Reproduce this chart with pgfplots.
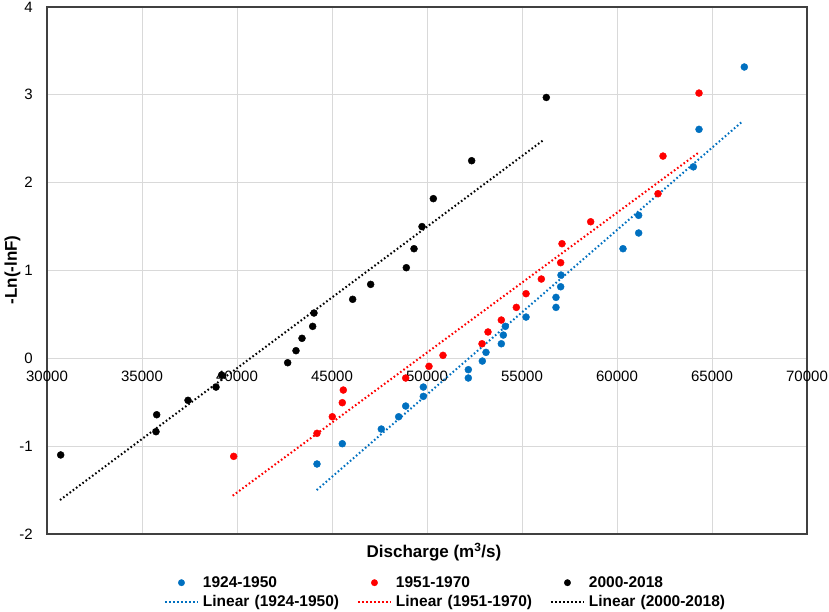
\documentclass[border=0pt]{standalone}
\usepackage{pgfplots}
\pgfplotsset{compat=1.18}
\usepackage{fontspec}
\setmainfont{Liberation Sans}
\definecolor{blue1}{HTML}{0070C0}
\definecolor{red1}{HTML}{FF0000}
\definecolor{gridc}{HTML}{D9D9D9}
\definecolor{axc}{HTML}{404040}
\newcommand\ticks{\fontsize{15}{18}\selectfont}
\newcommand\legfont{\fontsize{15.5}{18}\selectfont\bfseries}
\newcommand\labfont{\fontsize{17}{20}\selectfont\bfseries}
\tikzset{trend/.style={line width=2pt, dash pattern=on 1.6pt off 2.4pt}}
\begin{document}
\begin{tikzpicture}
\useasboundingbox (-47pt,-77pt) rectangle (782pt,534pt);
\begin{axis}[
  scale only axis, width=760pt, height=527pt,
  xmin=30000, xmax=70000, ymin=-2, ymax=4,
  xtick={30000,35000,40000,45000,50000,55000,60000,65000,70000},
  xticklabels={30000,35000,40000,45000,50000,55000,60000,65000,70000},
  ytick={-2,-1,0,1,2,3,4},
  yticklabels={-2,-1,0,1,2,3,4},
  scaled x ticks=false,
  major tick length=0pt,
  grid=major,
  major grid style={draw=gridc, line width=1pt},
  axis line style={draw=axc, line width=1.2pt},
  tick label style={font=\ticks, inner sep=0pt},
  xticklabel style={anchor=north, yshift=163.3pt},
  yticklabel style={anchor=east, xshift=-14pt},
  xlabel={Discharge (m\textsuperscript{3}/s)},
  ylabel={-Ln(-lnF)},
  label style={font=\labfont, inner sep=0pt},
  xlabel style={at={(axis description cs:0.5092,-0.0455)}, anchor=base},
  ylabel style={at={(axis description cs:-0.0454,0.501)}, anchor=center},
  legend columns=3,
  legend cell align=left,
  legend style={draw=none, fill=none, at={(axis description cs:0.1539,-0.0791)}, anchor=north west,
    inner sep=0pt, outer sep=0pt, font=\legfont,
    nodes={inner sep=0pt, text height=12pt, text depth=2pt, text width=154pt, align=left},
    row sep=5pt,
    /tikz/every odd column/.append style={column sep=4pt}},
  mark size=3.5pt,
]
\addplot[only marks, mark=*, color=blue1,
  legend image code/.code={\fill[blue1] (16.5pt,0pt) circle (3.2pt); \path (0pt,0pt) (33pt,0pt);}]
coordinates {
(44210,-1.203) (45542,-0.972) (47595,-0.805) (48509,-0.665) (48879,-0.543)
(49807,-0.433) (49807,-0.327) (52175,-0.224) (52175,-0.129) (52912,-0.031)
(53105,0.068) (53912,0.166) (54017,0.265) (54122,0.364) (55212,0.47)
(56789,0.58) (56789,0.694) (57035,0.815) (57052,0.948) (60316,1.248)
(61140,1.427) (61140,1.628) (64017,2.18) (64316,2.607) (66701,3.317)
};
\addlegendentry{1924-1950}
\addplot[only marks, mark=*, color=red1,
  legend image code/.code={\fill[red1] (16.5pt,0pt) circle (3.2pt); \path (0pt,0pt) (33pt,0pt);}]
coordinates {
(39826,-1.116) (44210,-0.854) (45016,-0.665) (45542,-0.505) (45595,-0.361)
(48879,-0.224) (50105,-0.091) (50842,0.034) (52895,0.166) (53210,0.30)
(53912,0.436) (54702,0.58) (55212,0.736) (56018,0.903) (57035,1.089)
(57105,1.305) (58614,1.555) (62158,1.874) (62421,2.303) (64316,3.02)
};
\addlegendentry{1951-1970}
\addplot[only marks, mark=*, color=black,
  legend image code/.code={\fill[black] (16.5pt,0pt) circle (3.2pt); \path (0pt,0pt) (33pt,0pt);}]
coordinates {
(30721,-1.10) (35737,-0.835) (35773,-0.642) (37421,-0.478) (38895,-0.327)
(39193,-0.19) (42667,-0.05) (43105,0.087) (43421,0.228) (43983,0.364)
(44052,0.516) (46088,0.672) (47035,0.842) (48911,1.032) (49316,1.248)
(49737,1.50) (50333,1.818) (52351,2.25) (56279,2.97)
};
\addlegendentry{2000-2018}
\addplot[blue1, trend, no marks,
  legend image code/.code={\draw[blue1, trend] (0pt,0pt) -- (33pt,0pt);}]
coordinates {(44193,-1.50) (66561,2.69)};
\addlegendentry{Linear (1924-1950)}
\addplot[red1, trend, no marks,
  legend image code/.code={\draw[red1, trend] (0pt,0pt) -- (33pt,0pt);}]
coordinates {(39773,-1.564) (64280,2.34)};
\addlegendentry{Linear (1951-1970)}
\addplot[black, trend, no marks,
  legend image code/.code={\draw[black, trend] (0pt,0pt) -- (33pt,0pt);}]
coordinates {(30684,-1.613) (56158,2.49)};
\addlegendentry{Linear (2000-2018)}
\end{axis}
\end{tikzpicture}
\end{document}
